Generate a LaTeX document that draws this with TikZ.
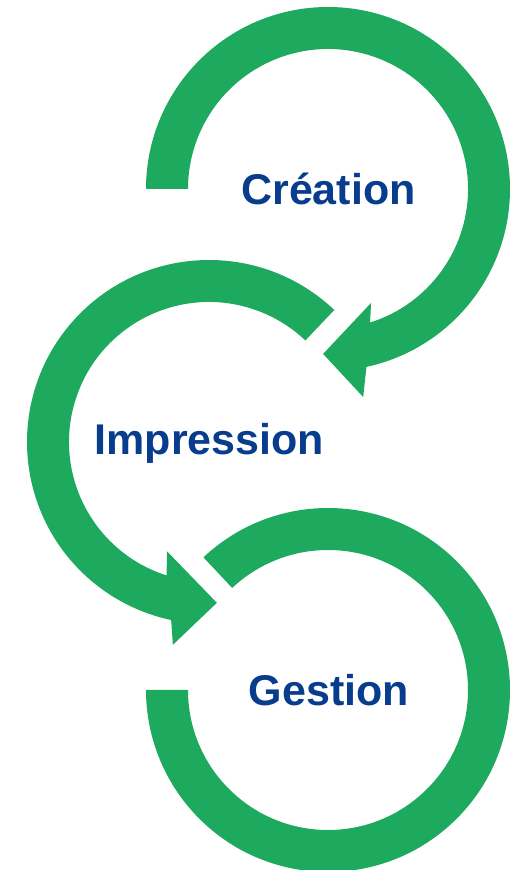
\documentclass[tikz,border=0pt]{standalone}
\usepackage{fontspec}
\setmainfont{Liberation Sans}
\usetikzlibrary{calc}
\definecolor{arrowgreen}{RGB}{29,169,94}
\definecolor{labelblue}{RGB}{8,60,140}
\tikzset{
  ring/.style={fill=arrowgreen, draw=none},
  steplabel/.style={text=labelblue, font=\fontsize{43}{51}\selectfont\bfseries, anchor=base, inner sep=0pt}
}
\begin{document}
\begin{tikzpicture}[x=1pt,y=1pt]
\useasboundingbox (0,0) rectangle (511,870);
\coordinate (c1) at (328,681);
\coordinate (c2) at (209,428);
\coordinate (c3) at (328,180);
% top ring: clockwise, arrowhead at bottom
\fill[ring] ($(c1)+(180:182)$) arc[start angle=180, end angle=-77.8, radius=182]
  -- ($(c1)+(-80.4:211)$) -- ($(c1)+(-91.7:165)$) -- ($(c1)+(-69.3:121.8)$)
  -- ($(c1)+(-72.5:140)$) arc[start angle=-72.5, end angle=180, radius=140] -- cycle;
% middle ring: counterclockwise, arrowhead at bottom right
\fill[ring] ($(c2)+(46.5:182)$) arc[start angle=46.5, end angle=258, radius=182]
  -- ($(c2)+(259.9:206)$) -- ($(c2)+(272.8:161)$) -- ($(c2)+(248.9:117)$)
  -- ($(c2)+(252.4:140)$) arc[start angle=252.4, end angle=46.5, radius=140] -- cycle;
% bottom ring: clockwise, ends at the left
\fill[ring] ($(c3)+(133.2:182)$) arc[start angle=133.2, end angle=-180, radius=182]
  -- ($(c3)+(180:140)$) arc[start angle=-180, end angle=133.2, radius=140] -- cycle;
\node[steplabel] (creation) at (328.5,665) {Création};
\node[steplabel] (impression) at (209.5,415) {Impression};
\node[steplabel] (gestion) at (329,164) {Gestion};
\end{tikzpicture}
\end{document}
